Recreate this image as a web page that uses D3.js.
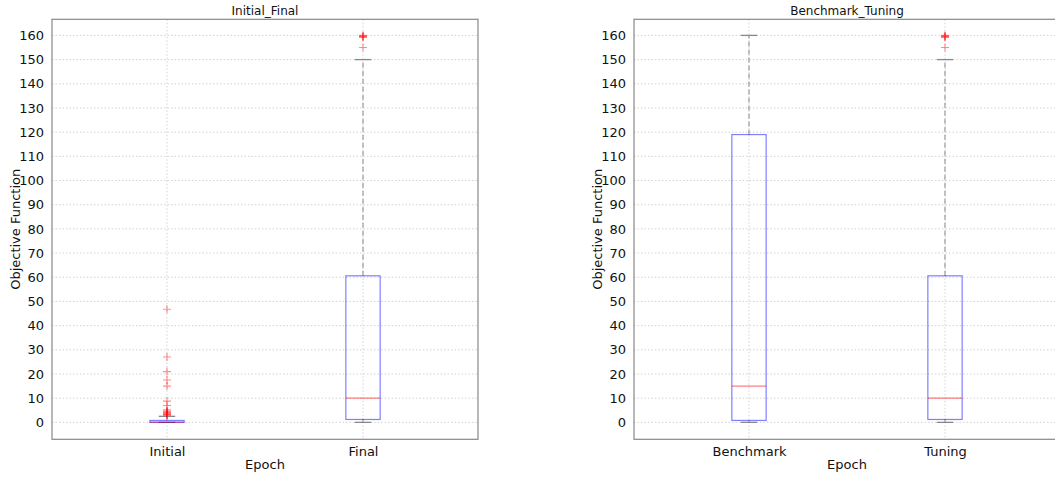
<!DOCTYPE html>
<html><head><meta charset="utf-8">
<script src="https://cdn.jsdelivr.net/npm/d3@7"></script>
<style>
body{margin:0;background:#fff;}
svg{display:block;font-family:"DejaVu Sans",sans-serif;}
</style></head>
<body><svg id="c" width="1055" height="477"></svg>
<script>
// ---- data ----
const titles = ["Initial_Final", "Benchmark_Tuning"];
const categoriesLeft = ["Initial", "Final"];
const categoriesRight = ["Benchmark", "Tuning"];
const yTicks = [0,10,20,30,40,50,60,70,80,90,100,110,120,130,140,150,160];
// box statistics per category
const whiskerLow  = {Initial: 0,   Final: 0,    Benchmark: 0,    Tuning: 0};
const q1          = {Initial: 0,   Final: 1.2,  Benchmark: 0.8,  Tuning: 1.2};
const median      = {Initial: 0.1, Final: 10,   Benchmark: 15,   Tuning: 10};
const q3          = {Initial: 0.8, Final: 60.6, Benchmark: 119,  Tuning: 60.6};
const whiskerHigh = {Initial: 2.5, Final: 150,  Benchmark: 160,  Tuning: 150};
const outliers = {
  Initial: [46.8, 27, 21, 17.5, 15, 8.8, 7, 5.2, 4.7, 4.4, 4.1, 3.8, 3.5, 3.2, 3.0],
  Final: [155, 159.2, 159.5, 159.7, 160],
  Benchmark: [],
  Tuning: [155, 159.2, 159.5, 159.7, 160]
};

(function(){
const svg = d3.select("#c");
const panels = [
  {title: titles[0], cats: categoriesLeft, left: 52, right: 478},
  {title: titles[1], cats: categoriesRight, left: 634, right: 1060}
];
const plotTop = 19.3, plotBottom = 439.3;
const y = d3.scaleLinear().domain([-7, 166.66]).range([plotBottom, plotTop]);
const boxHalf = 0.0875, capHalf = 0.042;

panels.forEach(p => {
  const x = d3.scaleLinear().domain([0.4133, 2.5867]).range([p.left, p.right]);
  const g = svg.append("g");
  // grid
  g.selectAll("line.hg").data(yTicks).join("line")
    .attr("x1", p.left).attr("x2", p.right)
    .attr("y1", d => y(d)).attr("y2", d => y(d))
    .attr("stroke", "#c8c8c8").attr("stroke-width", 0.8).attr("stroke-dasharray", "1.5,2");
  g.selectAll("line.vg").data(p.cats).join("line")
    .attr("x1", (d,i) => x(i+1)).attr("x2", (d,i) => x(i+1))
    .attr("y1", plotTop).attr("y2", plotBottom)
    .attr("stroke", "#c8c8c8").attr("stroke-width", 0.8).attr("stroke-dasharray", "1.5,2");
  // y axis
  const ya = d3.axisLeft(y).tickValues(yTicks).tickSize(0).tickPadding(8);
  const yg = g.append("g").attr("transform", `translate(${p.left},0)`).call(ya);
  yg.select(".domain").remove();
  yg.selectAll("text").attr("font-size", 13).attr("fill", "#111").attr("font-family", "DejaVu Sans");
  // x axis
  const xa = d3.axisBottom(x).tickValues([1,2]).tickFormat((d,i) => p.cats[i]).tickSize(0).tickPadding(7);
  const xg = g.append("g").attr("transform", `translate(0,${plotBottom})`).call(xa);
  xg.select(".domain").remove();
  xg.selectAll("text").attr("font-size", 13).attr("fill", "#111").attr("font-family", "DejaVu Sans");
  // frame
  g.append("rect").attr("x", p.left).attr("y", plotTop).attr("width", p.right - p.left).attr("height", plotBottom - plotTop)
    .attr("fill", "none").attr("stroke", "#888").attr("stroke-width", 1.2);
  // boxes
  p.cats.forEach((c, i) => {
    const cx = x(i+1);
    const hw = x(1 + boxHalf) - x(1), cw = x(1 + capHalf) - x(1);
    g.append("line").attr("x1", cx).attr("x2", cx).attr("y1", y(q3[c])).attr("y2", y(whiskerHigh[c]))
      .attr("stroke", "#888").attr("stroke-width", 1).attr("stroke-dasharray", "5,3");
    g.append("line").attr("x1", cx).attr("x2", cx).attr("y1", y(q1[c])).attr("y2", y(whiskerLow[c]))
      .attr("stroke", "#888").attr("stroke-width", 1).attr("stroke-dasharray", "5,3");
    [whiskerLow[c], whiskerHigh[c]].forEach(v => {
      g.append("line").attr("x1", cx - cw).attr("x2", cx + cw).attr("y1", y(v)).attr("y2", y(v))
        .attr("stroke", "#888").attr("stroke-width", 1.3);
    });
    g.append("rect").attr("x", cx - hw).attr("y", y(q3[c])).attr("width", 2*hw)
      .attr("height", Math.max(1, y(q1[c]) - y(q3[c])))
      .attr("fill", "none").attr("stroke", "rgba(0,0,255,0.5)").attr("stroke-width", 1.2);
    g.append("line").attr("x1", cx - hw).attr("x2", cx + hw).attr("y1", y(median[c])).attr("y2", y(median[c]))
      .attr("stroke", "rgba(255,0,0,0.5)").attr("stroke-width", 1.2);
    g.selectAll(null).data(outliers[c]).join("path")
      .attr("d", d => `M${cx-4},${y(d)}H${cx+4}M${cx},${y(d)-4}V${y(d)+4}`)
      .attr("stroke", "rgba(255,0,0,0.45)").attr("stroke-width", 1.1).attr("fill", "none");
  });
  const mid = (p.left + p.right) / 2;
  g.append("text").attr("x", mid).attr("y", plotTop - 4).attr("text-anchor", "middle")
    .attr("font-size", 12).attr("fill", "#111").text(p.title);
  g.append("text").attr("x", mid).attr("y", 469).attr("text-anchor", "middle")
    .attr("font-size", 13).attr("fill", "#111").text("Epoch");
  g.append("text").attr("transform", `translate(${p.left - 32},${(plotTop+plotBottom)/2}) rotate(-90)`)
    .attr("text-anchor", "middle").attr("font-size", 13).attr("fill", "#111").text("Objective Function");
});
})();
</script></body></html>
